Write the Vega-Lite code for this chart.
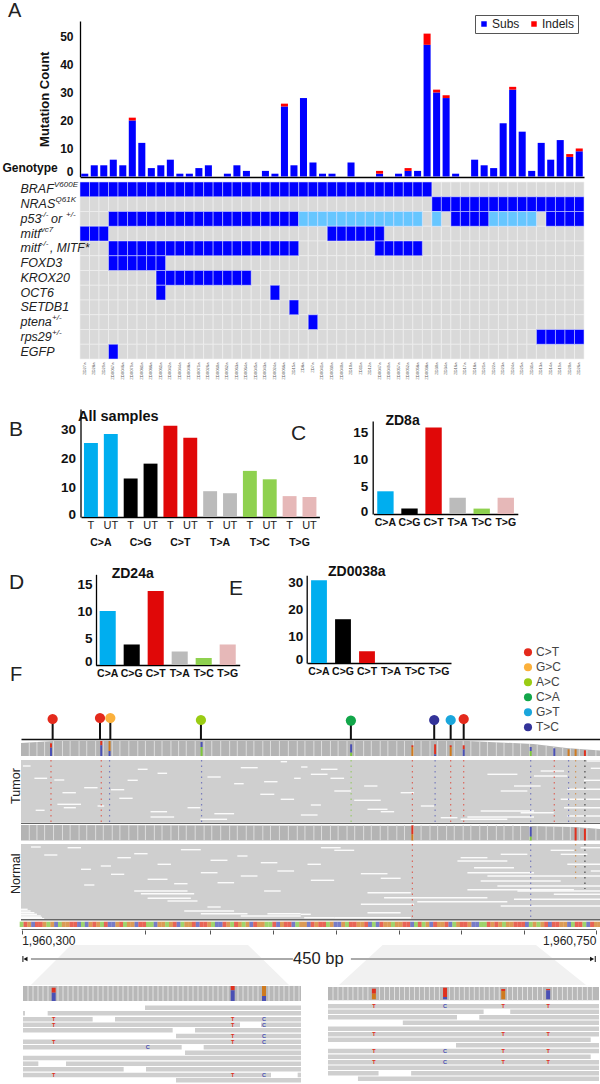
{
"$schema":"https://vega.github.io/schema/vega-lite/v6.json",
"padding":0,
"background":"white",
"bounds":"flush",
"spacing":0,
"resolve":{"scale":{"color":"independent","x":"independent","y":"independent","shape":"independent","strokeWidth":"independent"},"legend":{"color":"independent"}},
"config":{"font":"Liberation Sans","view":{"stroke":null},"axis":{"grid":false,"title":null},"title":{"font":"Liberation Sans","fontWeight":"normal","anchor":"start","frame":"group","baseline":"alphabetic","offset":0,"color":"#222"}},
"datasets":{
"samples":[
{"s":"ZD27a","Subs":1,"Indels":0,"BRAF":1,"vc7":1},
{"s":"ZD28a","Subs":4,"Indels":0,"BRAF":1,"vc7":1},
{"s":"ZD29a","Subs":4,"Indels":0,"BRAF":1,"vc7":1},
{"s":"ZD0067a","Subs":6,"Indels":0,"BRAF":1,"p53":1,"mitf":1,"FOXD3":1,"EGFP":1},
{"s":"ZD0046a","Subs":4,"Indels":0,"BRAF":1,"p53":1,"mitf":1,"FOXD3":1},
{"s":"ZD0079a","Subs":20,"Indels":1,"BRAF":1,"p53":1,"mitf":1,"FOXD3":1},
{"s":"ZD0081a","Subs":12,"Indels":0,"BRAF":1,"p53":1,"mitf":1,"FOXD3":1},
{"s":"ZD0086a","Subs":3,"Indels":0,"BRAF":1,"p53":1,"mitf":1,"FOXD3":1},
{"s":"ZD0061a","Subs":4,"Indels":0,"BRAF":1,"p53":1,"mitf":1,"FOXD3":1,"KROX20":1,"OCT6":1},
{"s":"ZD0042a","Subs":6,"Indels":0,"BRAF":1,"p53":1,"mitf":1,"KROX20":1},
{"s":"ZD0044a","Subs":1,"Indels":0,"BRAF":1,"p53":1,"mitf":1,"KROX20":1},
{"s":"ZD0048a","Subs":1,"Indels":0,"BRAF":1,"p53":1,"mitf":1,"KROX20":1},
{"s":"ZD0071a","Subs":3,"Indels":0,"BRAF":1,"p53":1,"mitf":1,"KROX20":1},
{"s":"ZD0026a","Subs":4,"Indels":0,"BRAF":1,"p53":1,"mitf":1,"KROX20":1},
{"s":"ZD0060a","Subs":0,"Indels":0,"BRAF":1,"p53":1,"mitf":1,"KROX20":1},
{"s":"ZD0062a","Subs":1,"Indels":0,"BRAF":1,"p53":1,"mitf":1,"KROX20":1},
{"s":"ZD0063a","Subs":4,"Indels":0,"BRAF":1,"p53":1,"mitf":1,"KROX20":1},
{"s":"ZD0064a","Subs":2,"Indels":0,"BRAF":1,"p53":1,"mitf":1,"KROX20":1},
{"s":"ZD0045a","Subs":0,"Indels":0,"BRAF":1,"p53":1,"mitf":1},
{"s":"ZD0043a","Subs":2,"Indels":0,"BRAF":1,"p53":1,"mitf":1},
{"s":"ZD0024a","Subs":1,"Indels":0,"BRAF":1,"p53":1,"mitf":1,"OCT6":1},
{"s":"ZD0066a","Subs":25,"Indels":1,"BRAF":1,"p53":1,"mitf":1},
{"s":"ZD15a","Subs":4,"Indels":0,"BRAF":1,"p53":1,"mitf":1,"SETDB1":1},
{"s":"ZD8a","Subs":28,"Indels":0,"BRAF":1,"p53":2},
{"s":"ZD7a","Subs":5,"Indels":0,"BRAF":1,"p53":2,"ptena":1},
{"s":"ZD0041a","Subs":1,"Indels":0,"BRAF":1,"p53":2},
{"s":"ZD0039a","Subs":1,"Indels":0,"BRAF":1,"p53":2,"vc7":1},
{"s":"ZD0040a","Subs":0,"Indels":0,"BRAF":1,"p53":2,"vc7":1},
{"s":"ZD10a","Subs":5,"Indels":0,"BRAF":1,"p53":2,"vc7":1},
{"s":"ZD11a","Subs":0,"Indels":0,"BRAF":1,"p53":2,"vc7":1},
{"s":"ZD12a","Subs":0,"Indels":0,"BRAF":1,"p53":2,"vc7":1},
{"s":"ZD0047a","Subs":1,"Indels":1,"BRAF":1,"p53":2,"vc7":1,"mitf":1},
{"s":"ZD0049a","Subs":0,"Indels":0,"BRAF":1,"p53":2,"mitf":1},
{"s":"ZD0057a","Subs":1,"Indels":0,"BRAF":1,"p53":2,"mitf":1},
{"s":"ZD0052a","Subs":2,"Indels":1,"BRAF":1,"p53":2,"mitf":1},
{"s":"ZD0058a","Subs":2,"Indels":0,"BRAF":1,"p53":2,"mitf":1},
{"s":"ZD0038a","Subs":47,"Indels":4,"BRAF":1},
{"s":"ZD30a","Subs":30,"Indels":1,"NRAS":1,"p53":2},
{"s":"ZD34a","Subs":28,"Indels":1,"NRAS":1},
{"s":"ZD16a","Subs":1,"Indels":0,"NRAS":1,"p53":1},
{"s":"ZD17a","Subs":0,"Indels":0,"NRAS":1,"p53":1},
{"s":"ZD18a","Subs":6,"Indels":0,"NRAS":1,"p53":1},
{"s":"ZD21a","Subs":4,"Indels":0,"NRAS":1,"p53":1},
{"s":"ZD22a","Subs":3,"Indels":0,"NRAS":1,"p53":2},
{"s":"ZD23a","Subs":19,"Indels":0,"NRAS":1,"p53":2},
{"s":"ZD24a","Subs":31,"Indels":1,"NRAS":1,"p53":2},
{"s":"ZD25a","Subs":16,"Indels":0,"NRAS":1,"p53":2},
{"s":"ZD31a","Subs":2,"Indels":0,"NRAS":1,"p53":2},
{"s":"ZD13a","Subs":12,"Indels":0,"NRAS":1,"rps29":1},
{"s":"ZD14a","Subs":6,"Indels":0,"NRAS":1,"p53":1,"rps29":1},
{"s":"ZD19a","Subs":13,"Indels":0,"NRAS":1,"p53":1,"rps29":1},
{"s":"ZD20a","Subs":7,"Indels":1,"NRAS":1,"p53":1,"rps29":1},
{"s":"ZD26a","Subs":9,"Indels":1,"NRAS":1,"p53":1,"rps29":1}
],
"geneText":[
{"s":"ZD27a","gene":"BRAF","k":"base","t":"BRAF"},
{"s":"ZD27a","gene":"NRAS","k":"base","t":"NRAS"},
{"s":"ZD27a","gene":"p53","k":"base","t":"p53"},
{"s":"ZD27a","gene":"vc7","k":"base","t":"mitf"},
{"s":"ZD27a","gene":"mitf","k":"base","t":"mitf"},
{"s":"ZD27a","gene":"FOXD3","k":"base","t":"FOXD3"},
{"s":"ZD27a","gene":"KROX20","k":"base","t":"KROX20"},
{"s":"ZD27a","gene":"OCT6","k":"base","t":"OCT6"},
{"s":"ZD27a","gene":"SETDB1","k":"base","t":"SETDB1"},
{"s":"ZD27a","gene":"ptena","k":"base","t":"ptena"},
{"s":"ZD27a","gene":"rps29","k":"base","t":"rps29"},
{"s":"ZD27a","gene":"EGFP","k":"base","t":"EGFP"},
{"s":"ZD27a","gene":"BRAF","k":"s1","t":"V600E"},
{"s":"ZD27a","gene":"NRAS","k":"s2","t":"Q61K"},
{"s":"ZD27a","gene":"p53","k":"s3","t":"-/-"},
{"s":"ZD27a","gene":"vc7","k":"s3","t":"vc7"},
{"s":"ZD27a","gene":"mitf","k":"s3","t":"-/-"},
{"s":"ZD27a","gene":"p53","k":"s4","t":"+/-"},
{"s":"ZD27a","gene":"ptena","k":"s5","t":"+/-"},
{"s":"ZD27a","gene":"rps29","k":"s5","t":"+/-"},
{"s":"ZD27a","gene":"p53","k":"m1","t":"or"},
{"s":"ZD27a","gene":"mitf","k":"m2","t":", MITF*"}
],
"spectrumAll":[
{"g":"C>A","t":"T","v":25.5,"z":0},{"g":"C>A","t":"UT","v":28.6,"z":0},
{"g":"C>G","t":"T","v":13.3,"z":0},{"g":"C>G","t":"UT","v":18.4,"z":0},
{"g":"C>T","t":"T","v":31.5,"z":0},{"g":"C>T","t":"UT","v":27.3,"z":0},
{"g":"T>A","t":"T","v":8.9,"z":0},{"g":"T>A","t":"UT","v":8.2,"z":0},
{"g":"T>C","t":"T","v":15.9,"z":0},{"g":"T>C","t":"UT","v":13,"z":0},
{"g":"T>G","t":"T","v":7.2,"z":0},{"g":"T>G","t":"UT","v":6.9,"z":0}
],
"lollipops":[
{"bp":24.3,"h":20,"m":"C>T"},{"bp":61.4,"h":21,"m":"C>T"},{"bp":69.5,"h":21,"m":"G>C"},{"bp":140.5,"h":19,"m":"A>C"},
{"bp":258,"h":18.4,"m":"C>A"},{"bp":323.3,"h":19,"m":"T>C"},{"bp":336.2,"h":19,"m":"G>T"},{"bp":346.4,"h":20,"m":"C>T"}
],
"readBg":[{"bp":-0.5,"bp2":454,"l":21,"l2":83.7},{"bp":-0.5,"bp2":454,"l":105,"l2":180}],
"gaps":[
{"bp":25.6,"bp2":33.4,"l":41},{"bp":32,"bp2":42.5,"l":53.7},{"bp":28,"bp2":46.5,"l":65.3},{"bp":33,"bp2":42.5,"l":68.7},{"bp":76.5,"bp2":87,"l":59.3},{"bp":101,"bp2":114,"l":72.7},{"bp":11,"bp2":18,"l":71.3},{"bp":59.5,"bp2":64.7,"l":67},{"bp":91,"bp2":98.7,"l":30.3},{"bp":106.5,"bp2":114,"l":34.3},{"bp":166.5,"bp2":174,"l":44.7},{"bp":187,"bp2":198,"l":55.3},{"bp":203,"bp2":213.5,"l":60.3},{"bp":130,"bp2":140,"l":68.7},{"bp":151,"bp2":166.5,"l":74.7},{"bp":140,"bp2":161,"l":80.3},{"bp":101,"bp2":119.5,"l":78},{"bp":49,"bp2":59.5,"l":48.7},{"bp":70,"bp2":80.4,"l":50.7},{"bp":145.6,"bp2":156,"l":38},{"bp":171.7,"bp2":185,"l":28.7},{"bp":10,"bp2":20,"l":39.3},{"bp":190,"bp2":200.5,"l":42.7},{"bp":203,"bp2":208,"l":22.7},{"bp":213.5,"bp2":218.7,"l":39.3},{"bp":1,"bp2":7,"l":27},{"bp":83,"bp2":91,"l":41.3},
{"bp":219,"bp2":224,"l":28},{"bp":234.5,"bp2":247.5,"l":30.3},{"bp":226.6,"bp2":239.7,"l":35.3},{"bp":242,"bp2":252.7,"l":39.3},{"bp":268.4,"bp2":278.8,"l":47},{"bp":245,"bp2":258,"l":52},{"bp":260.6,"bp2":281.4,"l":61.3},{"bp":271,"bp2":286.7,"l":70.3},{"bp":226.6,"bp2":234.5,"l":66},{"bp":218.8,"bp2":231.9,"l":76},{"bp":281.4,"bp2":291.9,"l":72.7},{"bp":297,"bp2":307.5,"l":53.7},{"bp":312.8,"bp2":323.2,"l":67},{"bp":328.4,"bp2":341.5,"l":78.7},{"bp":344,"bp2":380.6,"l":80.3},{"bp":349.3,"bp2":401.5,"l":78},{"bp":359.7,"bp2":401.5,"l":72},{"bp":375.4,"bp2":396.3,"l":52},{"bp":385.8,"bp2":406.7,"l":47},{"bp":365,"bp2":388.5,"l":35.3},{"bp":401.5,"bp2":427.6,"l":37},{"bp":406.7,"bp2":425,"l":32},{"bp":427.6,"bp2":454,"l":50.3},{"bp":422.4,"bp2":454,"l":60.3},{"bp":425,"bp2":454,"l":68.7},{"bp":427.6,"bp2":454,"l":77},{"bp":443,"bp2":454,"l":22},{"bp":446,"bp2":454,"l":29.3},{"bp":440.6,"bp2":454,"l":41.3},{"bp":391,"bp2":417,"l":73.7},
{"bp":36,"bp2":46.5,"l":108.7},{"bp":88.2,"bp2":98.7,"l":114.7},{"bp":124.8,"bp2":140.4,"l":110.7},{"bp":169,"bp2":177,"l":117},{"bp":148,"bp2":161.3,"l":121.3},{"bp":187.4,"bp2":200.4,"l":123.7},{"bp":75,"bp2":85.6,"l":118.7},{"bp":106.5,"bp2":117,"l":125.3},{"bp":46.5,"bp2":54.3,"l":130.3},{"bp":17.7,"bp2":28,"l":116},{"bp":62,"bp2":70,"l":127},{"bp":140.4,"bp2":153.5,"l":133.7},{"bp":171.7,"bp2":184.8,"l":137},{"bp":98.7,"bp2":114.3,"l":140.3},{"bp":88.2,"bp2":130,"l":152},{"bp":93.4,"bp2":135.2,"l":154.7},{"bp":98.7,"bp2":132.6,"l":159.3},{"bp":114.3,"bp2":137.8,"l":162},{"bp":145.6,"bp2":156,"l":168},{"bp":127.4,"bp2":166.5,"l":172},{"bp":140.4,"bp2":177,"l":174.7},{"bp":171.7,"bp2":218.7,"l":177},{"bp":192.6,"bp2":218.7,"l":174.7},{"bp":190,"bp2":203,"l":152},{"bp":70,"bp2":80.4,"l":135.3},{"bp":119.5,"bp2":130,"l":144.7},{"bp":49,"bp2":57,"l":146},{"bp":7.3,"bp2":15,"l":108},{"bp":200.4,"bp2":213.5,"l":132},{"bp":153.5,"bp2":166.5,"l":143.7},
{"bp":-0.5,"bp2":4.7,"l":170.3},{"bp":-0.5,"bp2":7,"l":172},{"bp":-0.5,"bp2":10,"l":173.7},{"bp":-0.5,"bp2":12,"l":175.3},{"bp":-0.5,"bp2":15,"l":177},{"bp":-0.5,"bp2":16,"l":178.4},{"bp":-0.5,"bp2":17.7,"l":179.7},
{"bp":234.5,"bp2":250,"l":108.7},{"bp":245,"bp2":260.6,"l":111.3},{"bp":344,"bp2":365,"l":118.7},{"bp":341.5,"bp2":380.6,"l":122},{"bp":224,"bp2":234.5,"l":125.3},{"bp":265.8,"bp2":286.7,"l":134.7},{"bp":281.4,"bp2":297,"l":139.3},{"bp":226.6,"bp2":244.9,"l":141.3},{"bp":354.5,"bp2":385.8,"l":128.7},{"bp":349.3,"bp2":401.5,"l":133.7},{"bp":365,"bp2":454,"l":137},{"bp":359.7,"bp2":422.4,"l":142},{"bp":372.8,"bp2":454,"l":147},{"bp":349.3,"bp2":432.8,"l":150.7},{"bp":271,"bp2":305,"l":153.7},{"bp":284,"bp2":365,"l":158.7},{"bp":310,"bp2":380.6,"l":162.7},{"bp":265.8,"bp2":307.5,"l":165.3},{"bp":375.4,"bp2":454,"l":167},{"bp":385.8,"bp2":454,"l":160.3},{"bp":417,"bp2":454,"l":155.3},{"bp":388.5,"bp2":454,"l":152},{"bp":271,"bp2":297,"l":173.7},{"bp":218.8,"bp2":226.6,"l":175.3},{"bp":221.4,"bp2":244.9,"l":178.7},{"bp":244.9,"bp2":305,"l":178.7},{"bp":438,"bp2":454,"l":108.7},{"bp":422.4,"bp2":443.3,"l":115.3},{"bp":427.6,"bp2":454,"l":125.3},{"bp":446,"bp2":454,"l":132},{"bp":375.4,"bp2":396.3,"l":115.3},{"bp":414.5,"bp2":432.8,"l":111.3}
],
"readMuts":[
{"bp":23,"l":21,"l2":83,"b":"T"},{"bp":62.4,"l":21,"l2":83,"b":"T"},{"bp":68.9,"l":21,"l2":83,"b":"C"},{"bp":141,"l":21,"l2":83,"b":"C"},{"bp":258.2,"l":21,"l2":83,"b":"A"},{"bp":306.2,"l":21,"l2":83,"b":"T"},{"bp":324,"l":21,"l2":83,"b":"C"},{"bp":336.2,"l":21,"l2":83,"b":"T"},{"bp":346.4,"l":21,"l2":83,"b":"T"},{"bp":398.9,"l":21,"l2":83,"b":"C"},{"bp":417.4,"l":21,"l2":83,"b":"T"},{"bp":428.6,"l":21,"l2":83,"b":"C"},{"bp":434.1,"l":21,"l2":83,"b":"G"},{"bp":441.4,"l":21,"l2":83,"b":"N"},
{"bp":306.2,"l":105,"l2":180,"b":"T"},{"bp":398.9,"l":105,"l2":180,"b":"C"},{"bp":434.1,"l":105,"l2":140,"b":"G"},{"bp":441.4,"l":105,"l2":150,"b":"N"}
],
"coverage":[
{"bp":-0.5,"l":4,"l2":17,"tr":"tumor"},{"bp":25,"l":2,"l2":17,"tr":"tumor"},{"bp":350,"l":2,"l2":17,"tr":"tumor"},{"bp":401,"l":5,"l2":17,"tr":"tumor"},{"bp":427,"l":9,"l2":17,"tr":"tumor"},{"bp":454,"l":11.5,"l2":17,"tr":"tumor"},
{"bp":-0.5,"l":86,"l2":101.5,"tr":"normal"},{"bp":400,"l":87,"l2":101.5,"tr":"normal"},{"bp":434,"l":88,"l2":101.5,"tr":"normal"},{"bp":454,"l":90,"l2":101.5,"tr":"normal"}
],
"stripes":[
{"bp":6,"l":3,"n":86},{"bp":12,"l":3,"n":86},{"bp":18,"l":3,"n":86},{"bp":25,"l":2,"n":86},{"bp":32,"l":2,"n":86},{"bp":38,"l":2,"n":86},{"bp":45,"l":2,"n":86},{"bp":51,"l":2,"n":86},{"bp":58,"l":2,"n":86},{"bp":64,"l":2,"n":86},{"bp":71,"l":2,"n":86},{"bp":77,"l":2,"n":86},{"bp":84,"l":2,"n":86},{"bp":91,"l":2,"n":86},{"bp":97,"l":2,"n":86},{"bp":104,"l":2,"n":86},{"bp":110,"l":2,"n":86},{"bp":117,"l":2,"n":86},{"bp":123,"l":2,"n":86},{"bp":129,"l":2,"n":86},{"bp":136,"l":2,"n":86},{"bp":143,"l":2,"n":86},{"bp":149,"l":2,"n":86},{"bp":156,"l":2,"n":86},{"bp":163,"l":2,"n":86},{"bp":169,"l":2,"n":86},{"bp":176,"l":2,"n":86},{"bp":182,"l":2,"n":86},{"bp":189,"l":2,"n":86},{"bp":195,"l":2,"n":86},{"bp":202,"l":2,"n":86},{"bp":209,"l":2,"n":86},{"bp":216,"l":2,"n":86},{"bp":222,"l":2,"n":86},{"bp":229,"l":2,"n":86},{"bp":235,"l":2,"n":86},{"bp":242,"l":2,"n":86},{"bp":248,"l":2,"n":86},{"bp":255,"l":2,"n":86},{"bp":261,"l":2,"n":86},{"bp":268,"l":2,"n":86},{"bp":274,"l":2,"n":86},{"bp":281,"l":2,"n":86},{"bp":287,"l":2,"n":86},{"bp":294,"l":2,"n":86},{"bp":300,"l":2,"n":86},{"bp":307,"l":2,"n":86},{"bp":313,"l":2,"n":86},{"bp":320,"l":2,"n":86},{"bp":326,"l":2,"n":86},{"bp":333,"l":2,"n":86},{"bp":339,"l":2,"n":86},{"bp":346,"l":2,"n":86},{"bp":352,"l":2,"n":86},{"bp":359,"l":3,"n":86},{"bp":365,"l":3,"n":86},{"bp":372,"l":3,"n":86},{"bp":378,"l":4,"n":86},{"bp":385,"l":4,"n":86},{"bp":391,"l":4,"n":87},{"bp":398,"l":5,"n":87},{"bp":404,"l":6,"n":87},{"bp":411,"l":7,"n":87},{"bp":417,"l":8,"n":87},{"bp":424,"l":9,"n":88},{"bp":430,"l":9,"n":88},{"bp":437,"l":10,"n":88},{"bp":443,"l":11,"n":89},{"bp":450,"l":11,"n":90}
],
"covMuts":[
{"bp":23,"l":4.3,"l2":8.7,"b":"T"},{"bp":23,"l":8.7,"l2":17,"b":"C"},{"bp":62.4,"l":2,"l2":6.3,"b":"T"},{"bp":62.4,"l":6.3,"l2":17,"b":"C"},{"bp":68.9,"l":2,"l2":12,"b":"G"},{"bp":68.9,"l":12,"l2":17,"b":"C"},{"bp":141,"l":3,"l2":8,"b":"C"},{"bp":141,"l":8,"l2":17,"b":"A"},{"bp":258.2,"l":5.3,"l2":13.7,"b":"C"},{"bp":258.2,"l":13.7,"l2":17,"b":"A"},{"bp":306.2,"l":6.3,"l2":8,"b":"T"},{"bp":306.2,"l":8,"l2":17,"b":"G"},{"bp":324,"l":5.3,"l2":15.3,"b":"T"},{"bp":324,"l":15.3,"l2":17,"b":"C"},{"bp":336.2,"l":6.3,"l2":8,"b":"T"},{"bp":336.2,"l":8,"l2":17,"b":"G"},{"bp":346.4,"l":6.3,"l2":10.3,"b":"T"},{"bp":346.4,"l":10.3,"l2":17,"b":"C"},{"bp":398.9,"l":8,"l2":12,"b":"C"},{"bp":398.9,"l":12,"l2":17,"b":"A"},{"bp":417.4,"l":9.3,"l2":17,"b":"C"},{"bp":428.6,"l":10.3,"l2":17,"b":"G"},{"bp":434.1,"l":10.3,"l2":17,"b":"G"},{"bp":441.4,"l":11.3,"l2":17,"b":"T"},
{"bp":306.2,"l":86.3,"l2":95.3,"b":"T"},{"bp":306.2,"l":95.3,"l2":101.5,"b":"G"},{"bp":398.9,"l":88,"l2":97.7,"b":"C"},{"bp":398.9,"l":97.7,"l2":101.5,"b":"A"},{"bp":434.1,"l":88.7,"l2":101.5,"b":"T"},{"bp":441.4,"l":89.7,"l2":101.5,"b":"T"}
],
"refSeq":[
{"bp":0,"b":"A","l":182.7},{"bp":3,"b":"T","l":182.7},{"bp":6,"b":"G","l":182.7},{"bp":9,"b":"C","l":182.7},{"bp":12,"b":"T","l":182.7},{"bp":15,"b":"T","l":182.7},{"bp":18,"b":"G","l":182.7},{"bp":21,"b":"A","l":182.7},{"bp":24,"b":"G","l":182.7},{"bp":27,"b":"C","l":182.7},{"bp":30,"b":"A","l":182.7},{"bp":33,"b":"G","l":182.7},{"bp":36,"b":"G","l":182.7},{"bp":39,"b":"T","l":182.7},{"bp":42,"b":"T","l":182.7},{"bp":45,"b":"C","l":182.7},{"bp":48,"b":"A","l":182.7},{"bp":51,"b":"C","l":182.7},{"bp":54,"b":"G","l":182.7},{"bp":57,"b":"T","l":182.7},{"bp":60,"b":"G","l":182.7},{"bp":63,"b":"A","l":182.7},{"bp":66,"b":"T","l":182.7},{"bp":69,"b":"C","l":182.7},{"bp":72,"b":"C","l":182.7},{"bp":75,"b":"G","l":182.7},{"bp":78,"b":"T","l":182.7},{"bp":81,"b":"A","l":182.7},{"bp":84,"b":"G","l":182.7},{"bp":87,"b":"G","l":182.7},{"bp":90,"b":"C","l":182.7},{"bp":93,"b":"T","l":182.7},{"bp":96,"b":"T","l":182.7},{"bp":99,"b":"A","l":182.7},{"bp":102,"b":"A","l":182.7},{"bp":105,"b":"C","l":182.7},{"bp":108,"b":"G","l":182.7},{"bp":111,"b":"G","l":182.7},{"bp":114,"b":"A","l":182.7},{"bp":117,"b":"G","l":182.7},{"bp":120,"b":"T","l":182.7},{"bp":123,"b":"C","l":182.7},{"bp":126,"b":"A","l":182.7},{"bp":129,"b":"G","l":182.7},{"bp":132,"b":"G","l":182.7},{"bp":135,"b":"T","l":182.7},{"bp":138,"b":"C","l":182.7},{"bp":141,"b":"T","l":182.7},{"bp":144,"b":"T","l":182.7},{"bp":147,"b":"G","l":182.7},{"bp":150,"b":"A","l":182.7},{"bp":153,"b":"C","l":182.7},{"bp":156,"b":"C","l":182.7},{"bp":159,"b":"T","l":182.7},{"bp":162,"b":"G","l":182.7},{"bp":165,"b":"A","l":182.7},{"bp":168,"b":"T","l":182.7},{"bp":171,"b":"G","l":182.7},{"bp":174,"b":"A","l":182.7},{"bp":177,"b":"G","l":182.7},{"bp":180,"b":"C","l":182.7},{"bp":183,"b":"T","l":182.7},{"bp":186,"b":"G","l":182.7},{"bp":189,"b":"G","l":182.7},{"bp":192,"b":"A","l":182.7},{"bp":195,"b":"A","l":182.7},{"bp":198,"b":"T","l":182.7},{"bp":201,"b":"C","l":182.7},{"bp":204,"b":"G","l":182.7},{"bp":207,"b":"T","l":182.7},{"bp":210,"b":"T","l":182.7},{"bp":213,"b":"C","l":182.7},{"bp":216,"b":"A","l":182.7},{"bp":219,"b":"G","l":182.7},{"bp":222,"b":"G","l":182.7},{"bp":225,"b":"C","l":182.7},{"bp":228,"b":"T","l":182.7},{"bp":231,"b":"G","l":182.7},{"bp":234,"b":"T","l":182.7},{"bp":237,"b":"T","l":182.7},{"bp":240,"b":"A","l":182.7},{"bp":243,"b":"G","l":182.7},{"bp":246,"b":"C","l":182.7},{"bp":249,"b":"C","l":182.7},{"bp":252,"b":"G","l":182.7},{"bp":255,"b":"A","l":182.7},{"bp":258,"b":"T","l":182.7},{"bp":261,"b":"T","l":182.7},{"bp":264,"b":"G","l":182.7},{"bp":267,"b":"G","l":182.7},{"bp":270,"b":"T","l":182.7},{"bp":273,"b":"C","l":182.7},{"bp":276,"b":"A","l":182.7},{"bp":279,"b":"C","l":182.7},{"bp":282,"b":"T","l":182.7},{"bp":285,"b":"G","l":182.7},{"bp":288,"b":"G","l":182.7},{"bp":291,"b":"A","l":182.7},{"bp":294,"b":"G","l":182.7},{"bp":297,"b":"G","l":182.7},{"bp":300,"b":"T","l":182.7},{"bp":303,"b":"T","l":182.7},{"bp":306,"b":"C","l":182.7},{"bp":309,"b":"A","l":182.7},{"bp":312,"b":"T","l":182.7},{"bp":315,"b":"A","l":182.7},{"bp":318,"b":"G","l":182.7},{"bp":321,"b":"C","l":182.7},{"bp":324,"b":"T","l":182.7},{"bp":327,"b":"G","l":182.7},{"bp":330,"b":"G","l":182.7},{"bp":333,"b":"T","l":182.7},{"bp":336,"b":"C","l":182.7},{"bp":339,"b":"A","l":182.7},{"bp":342,"b":"G","l":182.7},{"bp":345,"b":"T","l":182.7},{"bp":348,"b":"T","l":182.7},{"bp":351,"b":"G","l":182.7},{"bp":354,"b":"C","l":182.7},{"bp":357,"b":"C","l":182.7},{"bp":360,"b":"A","l":182.7},{"bp":363,"b":"A","l":182.7},{"bp":366,"b":"T","l":182.7},{"bp":369,"b":"G","l":182.7},{"bp":372,"b":"T","l":182.7},{"bp":375,"b":"G","l":182.7},{"bp":378,"b":"A","l":182.7},{"bp":381,"b":"G","l":182.7},{"bp":384,"b":"G","l":182.7},{"bp":387,"b":"T","l":182.7},{"bp":390,"b":"T","l":182.7},{"bp":393,"b":"T","l":182.7},{"bp":396,"b":"C","l":182.7},{"bp":399,"b":"A","l":182.7},{"bp":402,"b":"G","l":182.7},{"bp":405,"b":"A","l":182.7},{"bp":408,"b":"G","l":182.7},{"bp":411,"b":"T","l":182.7},{"bp":414,"b":"C","l":182.7},{"bp":417,"b":"T","l":182.7},{"bp":420,"b":"T","l":182.7},{"bp":423,"b":"G","l":182.7},{"bp":426,"b":"G","l":182.7},{"bp":429,"b":"C","l":182.7},{"bp":432,"b":"A","l":182.7},{"bp":435,"b":"T","l":182.7},{"bp":438,"b":"T","l":182.7},{"bp":441,"b":"A","l":182.7},{"bp":444,"b":"C","l":182.7},{"bp":447,"b":"T","l":182.7},{"bp":450,"b":"G","l":182.7},{"bp":453,"b":"G","l":182.7}
],
"lines":[{"bp":-0.5,"bp2":454,"l":84.5,"w":1},{"bp":-0.5,"bp2":454,"l":180.8,"w":1.4},{"bp":0,"bp2":450,"l":190.5,"w":1}],
"trackLabels":[{"bp":-4.4,"l":47,"t":"Tumor"},{"bp":-4.4,"l":134.7,"t":"Normal"}],
"trapezoids":[
{"n":"left","l":15,"bp":38.7,"bp2":177.4},{"n":"left","l":55,"bp":7.3,"bp2":209.5},
{"n":"right","l":15,"bp":282.9,"bp2":403},{"n":"right","l":55,"bp":248.7,"bp2":442.2}
],
"spanLine":[{"bp":7.3,"bp2":212.6,"l":29},{"bp":258,"bp2":446,"l":29}],
"spanEnds":[{"bp":3,"l":29,"sh":"triangle-left"},{"bp":447,"l":29,"sh":"triangle-right"}],
"spanCaps":[{"bp":1,"l":26,"l2":32},{"bp":449.5,"l":26,"l2":32}],
"spanText":[{"bp":232.5,"l":29,"t":"450 bp"}],
"zoomCov":[{"v":"L","p":66,"p2":900,"l":1,"l2":16},{"v":"R","p":80,"p2":895,"l":2,"l2":15.3}],
"zoomStripes":[
{"v":"L","l":1,"p":81},{"v":"L","l":1,"p":96},{"v":"L","l":1,"p":111},{"v":"L","l":1,"p":126},{"v":"L","l":1,"p":141},{"v":"L","l":1,"p":171},{"v":"L","l":1,"p":186},{"v":"L","l":1,"p":201},{"v":"L","l":1,"p":216},{"v":"L","l":1,"p":231},{"v":"L","l":1,"p":246},{"v":"L","l":1,"p":261},{"v":"L","l":1,"p":276},{"v":"L","l":1,"p":291},{"v":"L","l":1,"p":306},{"v":"L","l":1,"p":321},{"v":"L","l":1,"p":336},{"v":"L","l":1,"p":351},{"v":"L","l":1,"p":366},{"v":"L","l":1,"p":381},{"v":"L","l":1,"p":396},{"v":"L","l":1,"p":411},{"v":"L","l":1,"p":426},{"v":"L","l":1,"p":441},{"v":"L","l":1,"p":456},{"v":"L","l":1,"p":471},{"v":"L","l":1,"p":486},{"v":"L","l":1,"p":501},{"v":"L","l":1,"p":516},{"v":"L","l":1,"p":531},{"v":"L","l":1,"p":546},{"v":"L","l":1,"p":561},{"v":"L","l":1,"p":576},{"v":"L","l":1,"p":591},{"v":"L","l":1,"p":606},{"v":"L","l":1,"p":621},{"v":"L","l":1,"p":636},{"v":"L","l":1,"p":651},{"v":"L","l":1,"p":666},{"v":"L","l":1,"p":681},{"v":"L","l":1,"p":711},{"v":"L","l":1,"p":726},{"v":"L","l":1,"p":741},{"v":"L","l":1,"p":756},{"v":"L","l":1,"p":771},{"v":"L","l":1,"p":804},{"v":"L","l":1,"p":819},{"v":"L","l":1,"p":834},{"v":"L","l":1,"p":849},{"v":"L","l":1,"p":864},{"v":"L","l":1,"p":879},{"v":"L","l":1,"p":894},
{"v":"R","l":2,"p":95},{"v":"R","l":2,"p":110},{"v":"R","l":2,"p":125},{"v":"R","l":2,"p":140},{"v":"R","l":2,"p":155},{"v":"R","l":2,"p":170},{"v":"R","l":2,"p":185},{"v":"R","l":2,"p":200},{"v":"R","l":2,"p":235},{"v":"R","l":2,"p":250},{"v":"R","l":2,"p":265},{"v":"R","l":2,"p":280},{"v":"R","l":2,"p":295},{"v":"R","l":2,"p":310},{"v":"R","l":2,"p":325},{"v":"R","l":2,"p":340},{"v":"R","l":2,"p":355},{"v":"R","l":2,"p":370},{"v":"R","l":2,"p":385},{"v":"R","l":2,"p":400},{"v":"R","l":2,"p":415},{"v":"R","l":2,"p":445},{"v":"R","l":2,"p":460},{"v":"R","l":2,"p":475},{"v":"R","l":2,"p":490},{"v":"R","l":2,"p":505},{"v":"R","l":2,"p":520},{"v":"R","l":2,"p":535},{"v":"R","l":2,"p":550},{"v":"R","l":2,"p":565},{"v":"R","l":2,"p":580},{"v":"R","l":2,"p":595},{"v":"R","l":2,"p":620},{"v":"R","l":2,"p":635},{"v":"R","l":2,"p":650},{"v":"R","l":2,"p":665},{"v":"R","l":2,"p":680},{"v":"R","l":2,"p":695},{"v":"R","l":2,"p":710},{"v":"R","l":2,"p":725},{"v":"R","l":2,"p":755},{"v":"R","l":2,"p":770},{"v":"R","l":2,"p":785},{"v":"R","l":2,"p":800},{"v":"R","l":2,"p":815},{"v":"R","l":2,"p":830},{"v":"R","l":2,"p":845},{"v":"R","l":2,"p":860},{"v":"R","l":2,"p":875}
],
"zoomMuts":[
{"v":"L","p":158,"l":2.7,"l2":7.7,"b":"T"},{"v":"L","p":158,"l":7.7,"l2":16,"b":"C"},{"v":"L","p":695,"l":1,"l2":5.3,"b":"T"},{"v":"L","p":695,"l":5.3,"l2":16,"b":"C"},{"v":"L","p":789,"l":1,"l2":11,"b":"G"},{"v":"L","p":789,"l":11,"l2":16,"b":"C"},
{"v":"R","p":218,"l":3.7,"l2":8.7,"b":"T"},{"v":"R","p":218,"l":8.7,"l2":14.3,"b":"G"},{"v":"R","p":432,"l":2.7,"l2":12,"b":"T"},{"v":"R","p":432,"l":12,"l2":14.3,"b":"C"},{"v":"R","p":607,"l":4,"l2":6,"b":"T"},{"v":"R","p":607,"l":6,"l2":14.3,"b":"G"},{"v":"R","p":742,"l":4,"l2":5.3,"b":"T"},{"v":"R","p":742,"l":5.3,"l2":14.3,"b":"C"}
],
"zoomReads":[
{"v":"L","l":22.7,"p":432,"p2":900},{"v":"L","l":28.3,"p":66,"p2":72},{"v":"L","l":28.3,"p":140,"p2":900},{"v":"L","l":34.3,"p":66,"p2":275},{"v":"L","l":34.3,"p":342,"p2":900},{"v":"L","l":39.7,"p":66,"p2":717},{"v":"L","l":39.7,"p":780,"p2":900},{"v":"L","l":45.3,"p":66,"p2":515},{"v":"L","l":45.3,"p":582,"p2":900},{"v":"L","l":51,"p":525,"p2":900},{"v":"L","l":56.7,"p":66,"p2":900},{"v":"L","l":62.3,"p":66,"p2":542},{"v":"L","l":62.3,"p":608,"p2":900},{"v":"L","l":67.7,"p":552,"p2":900},{"v":"L","l":73,"p":66,"p2":900},{"v":"L","l":78.7,"p":66,"p2":112},{"v":"L","l":78.7,"p":195,"p2":900},{"v":"L","l":84.3,"p":66,"p2":368},{"v":"L","l":84.3,"p":435,"p2":900},{"v":"L","l":90,"p":66,"p2":810},{"v":"L","l":90,"p":890,"p2":900},{"v":"L","l":95.3,"p":525,"p2":900},
{"v":"R","l":21.3,"p":80,"p2":895},{"v":"R","l":26.7,"p":80,"p2":548},{"v":"R","l":26.7,"p":628,"p2":895},{"v":"R","l":32.3,"p":80,"p2":468},{"v":"R","l":32.3,"p":535,"p2":895},{"v":"R","l":37.7,"p":305,"p2":895},{"v":"R","l":43.7,"p":80,"p2":895},{"v":"R","l":49.3,"p":80,"p2":895},{"v":"R","l":54.7,"p":80,"p2":870},{"v":"R","l":60.3,"p":465,"p2":895},{"v":"R","l":66,"p":80,"p2":895},{"v":"R","l":71.7,"p":80,"p2":870},{"v":"R","l":77.3,"p":80,"p2":895},{"v":"R","l":82.7,"p":80,"p2":895},{"v":"R","l":88.3,"p":80,"p2":232},{"v":"R","l":88.3,"p":330,"p2":895},{"v":"R","l":93.7,"p":170,"p2":895}
],
"zoomLetters":[
{"v":"L","p":158,"l":34.3,"b":"T"},{"v":"L","p":158,"l":39.7,"b":"T"},{"v":"L","p":158,"l":56.7,"b":"T"},{"v":"L","p":158,"l":90,"b":"T"},
{"v":"L","p":695,"l":34.3,"b":"T"},{"v":"L","p":695,"l":39.7,"b":"T"},{"v":"L","p":695,"l":51,"b":"T"},{"v":"L","p":695,"l":56.7,"b":"T"},{"v":"L","p":695,"l":90,"b":"T"},
{"v":"L","p":789,"l":34.3,"b":"C"},{"v":"L","p":789,"l":39.7,"b":"C"},{"v":"L","p":789,"l":51,"b":"C"},{"v":"L","p":789,"l":56.7,"b":"C"},{"v":"L","p":789,"l":90,"b":"C"},{"v":"L","p":440,"l":62.3,"b":"C"},
{"v":"R","p":218,"l":21.3,"b":"T"},{"v":"R","p":218,"l":49.3,"b":"T"},{"v":"R","p":218,"l":66,"b":"T"},{"v":"R","p":218,"l":77.3,"b":"T"},
{"v":"R","p":432,"l":21.3,"b":"C"},{"v":"R","p":432,"l":66,"b":"C"},{"v":"R","p":432,"l":77.3,"b":"C"},
{"v":"R","p":607,"l":21.3,"b":"T"},{"v":"R","p":607,"l":49.3,"b":"T"},{"v":"R","p":607,"l":66,"b":"T"},{"v":"R","p":607,"l":77.3,"b":"T"},
{"v":"R","p":742,"l":21.3,"b":"T"},{"v":"R","p":742,"l":49.3,"b":"T"},{"v":"R","p":742,"l":66,"b":"T"},{"v":"R","p":742,"l":77.3,"b":"T"}
]
},
"vconcat":[
{
"width":600,"height":176,
"title":{"text":"A","fontSize":20,"dx":7,"dy":23.5},
"data":{"name":"samples"},
"encoding":{
"x":{"field":"s","type":"nominal","sort":null,"scale":{"range":[79,583],"paddingInner":0.26,"paddingOuter":0.13},"axis":{"labels":false,"ticks":false,"domainColor":"#000","domainWidth":1.6}},
"y":{"field":"n","type":"quantitative","scale":{"domain":[0,55.5],"range":[175.5,20],"nice":false},"axis":{"title":"Mutation Count","titleFontSize":13,"titleFontWeight":"bold","titleColor":"#111","titlePadding":8,"offset":-79,"values":[0,10,20,30,40,50],"labelOverlap":false,"labelBound":false,"labelSeparation":0,"ticks":false,"labelPadding":7,"labelFontSize":12,"labelFontWeight":"bold","labelColor":"#111","domainColor":"#000","domainWidth":1.3,"labelOffset":{"condition":{"test":"datum.value===0","value":-5},"value":0}}}
},
"layer":[
{"transform":[{"fold":["Subs","Indels"],"as":["kind","n"]}],
"mark":{"type":"bar"},
"encoding":{
"color":{"field":"kind","type":"nominal","scale":{"domain":["Subs","Indels"],"range":["#0000ff","#ff0000"]},"legend":{"orient":"none","legendX":474,"legendY":14,"direction":"horizontal","title":null,"symbolType":"square","symbolSize":30,"labelFontSize":12,"labelColor":"#222","strokeColor":"#555","padding":3,"labelOffset":2,"columnPadding":8}},
"order":{"field":"kind","sort":"descending"}
}},
{"data":{"values":[{"s":"ZD27a","n":3,"t":"Genotype"}]},
"mark":{"type":"text","align":"right","dx":-27,"fontSize":12,"fontWeight":"bold","color":"#111"},
"encoding":{"text":{"field":"t"}}}
]
},
{
"width":600,"height":182,
"encoding":{
"x":{"field":"s","type":"nominal","sort":null,"scale":{"range":[79,583],"padding":0,"domain":["ZD27a","ZD28a","ZD29a","ZD0067a","ZD0046a","ZD0079a","ZD0081a","ZD0086a","ZD0061a","ZD0042a","ZD0044a","ZD0048a","ZD0071a","ZD0026a","ZD0060a","ZD0062a","ZD0063a","ZD0064a","ZD0045a","ZD0043a","ZD0024a","ZD0066a","ZD15a","ZD8a","ZD7a","ZD0041a","ZD0039a","ZD0040a","ZD10a","ZD11a","ZD12a","ZD0047a","ZD0049a","ZD0057a","ZD0052a","ZD0058a","ZD0038a","ZD30a","ZD34a","ZD16a","ZD17a","ZD18a","ZD21a","ZD22a","ZD23a","ZD24a","ZD25a","ZD31a","ZD13a","ZD14a","ZD19a","ZD20a","ZD26a"]},"axis":{"labelAngle":-90,"labelFontSize":4.2,"labelColor":"#555","labelPadding":3,"ticks":false,"domain":false,"labelOverlap":false}},
"y":{"field":"gene","type":"nominal","sort":null,"scale":{"domain":["BRAF","NRAS","p53","vc7","mitf","FOXD3","KROX20","OCT6","SETDB1","ptena","rps29","EGFP"],"range":[5,182],"padding":0},"axis":null}
},
"layer":[
{"data":{"name":"samples"},"transform":[{"fold":["BRAF","NRAS","p53","vc7","mitf","FOXD3","KROX20","OCT6","SETDB1","ptena","rps29","EGFP"],"as":["gene","v"]}],
"mark":{"type":"rect","color":"#d9d9d9","stroke":"#f2f2f2","strokeWidth":0.6}},
{"data":{"name":"samples"},"transform":[{"fold":["BRAF","NRAS","p53","vc7","mitf","FOXD3","KROX20","OCT6","SETDB1","ptena","rps29","EGFP"],"as":["gene","v"]},{"filter":"datum.v>0"}],
"mark":{"type":"rect","stroke":"#dfe3ff","strokeWidth":0.5},
"encoding":{"color":{"field":"v","type":"nominal","scale":{"domain":[1,2],"range":["#0000ff","#66c6ff"]},"legend":null}}},
{"data":{"name":"geneText"},"transform":[{"filter":"datum.k==='base'"}],"mark":{"type":"text","align":"left","dx":-64.25,"fontSize":12.5,"fontStyle":"italic","color":"#222"},"encoding":{"text":{"field":"t"}}},
{"data":{"name":"geneText"},"transform":[{"filter":"datum.k==='m1'"}],"mark":{"type":"text","align":"left","dx":-33.75,"fontSize":12.5,"fontStyle":"italic","color":"#222"},"encoding":{"text":{"field":"t"}}},
{"data":{"name":"geneText"},"transform":[{"filter":"datum.k==='m2'"}],"mark":{"type":"text","align":"left","dx":-34.75,"fontSize":12,"fontStyle":"italic","color":"#222"},"encoding":{"text":{"field":"t"}}},
{"data":{"name":"geneText"},"transform":[{"filter":"datum.k==='s1'"}],"mark":{"type":"text","align":"left","dx":-30.75,"dy":-4,"fontSize":8,"fontStyle":"italic","color":"#222"},"encoding":{"text":{"field":"t"}}},
{"data":{"name":"geneText"},"transform":[{"filter":"datum.k==='s2'"}],"mark":{"type":"text","align":"left","dx":-29.25,"dy":-4,"fontSize":8,"fontStyle":"italic","color":"#222"},"encoding":{"text":{"field":"t"}}},
{"data":{"name":"geneText"},"transform":[{"filter":"datum.k==='s3'"}],"mark":{"type":"text","align":"left","dx":-44,"dy":-4,"fontSize":8,"fontStyle":"italic","color":"#222"},"encoding":{"text":{"field":"t"}}},
{"data":{"name":"geneText"},"transform":[{"filter":"datum.k==='s4'"}],"mark":{"type":"text","align":"left","dx":-18.75,"dy":-4,"fontSize":8,"fontStyle":"italic","color":"#222"},"encoding":{"text":{"field":"t"}}},
{"data":{"name":"geneText"},"transform":[{"filter":"datum.k==='s5'"}],"mark":{"type":"text","align":"left","dx":-32.75,"dy":-4,"fontSize":8,"fontStyle":"italic","color":"#222"},"encoding":{"text":{"field":"t"}}}
]
},
{
"bounds":"flush","spacing":0,
"hconcat":[
{
"width":285,"height":158,
"title":{"text":"B","fontSize":21,"dx":8,"dy":84.5},
"data":{"name":"spectrumAll"},
"encoding":{
"x":{"field":"g","type":"nominal","sort":null,"scale":{"range":[80,318.4],"padding":0},"axis":{"labelAngle":0,"labelPadding":20,"ticks":false,"labelFontSize":10.5,"labelFontWeight":"bold","labelColor":"#111","domainColor":"#000","domainWidth":1.3}},
"xOffset":{"field":"t","type":"nominal","sort":null,"scale":{"paddingInner":0.3,"paddingOuter":0.15}}
},
"layer":[
{"mark":"bar","encoding":{
"y":{"field":"v","type":"quantitative","scale":{"domain":[0,37.24],"range":[158,50],"nice":false},"axis":{"offset":-79.5,"values":[0,10,20,30],"labelOverlap":false,"ticks":false,"labelPadding":5,"labelFontSize":13.5,"labelFontWeight":"bold","labelColor":"#111","domainColor":"#000","domainWidth":1.3,"labelOffset":{"condition":{"test":"datum.value===0","value":-3},"value":0}}},
"color":{"field":"g","type":"nominal","scale":{"domain":["C>A","C>G","C>T","T>A","T>C","T>G"],"range":["#00aeef","#000000","#e00808","#bbbbbb","#8fd14f","#e6b8b8"]},"legend":null}}},
{"mark":{"type":"text","dy":9,"fontSize":11,"color":"#222"},"encoding":{"y":{"field":"z","type":"quantitative","scale":{"domain":[0,37.24],"range":[158,50],"nice":false}},"text":{"field":"t"}}},
{"data":{"values":[{"g":"C>A","v":34.6,"t":"All samples"}]},"mark":{"type":"text","align":"left","dx":-3,"fontSize":14.5,"fontWeight":"bold","color":"#111"},"encoding":{"xOffset":{"value":0},"y":{"field":"v","type":"quantitative","scale":{"domain":[0,37.24],"range":[158,50],"nice":false}},"text":{"field":"t"}}}
]
},
{
"width":315,"height":155,
"title":{"text":"C","fontSize":21,"dx":5,"dy":88.5},
"data":{"values":[{"g":"C>A","v":4.2},{"g":"C>G","v":1},{"g":"C>T","v":16},{"g":"T>A","v":3},{"g":"T>C","v":1},{"g":"T>G","v":3}]},
"encoding":{"x":{"field":"g","type":"nominal","sort":null,"scale":{"range":[87.4,231.8],"paddingInner":0.32,"paddingOuter":0.16},"axis":{"labelAngle":0,"labelPadding":3,"ticks":false,"labelFontSize":10.5,"labelFontWeight":"bold","labelColor":"#111","domainColor":"#000","domainWidth":1.3}}},
"layer":[
{"mark":"bar","encoding":{
"y":{"field":"v","type":"quantitative","scale":{"domain":[0,17.2],"range":[155,62],"nice":false},"axis":{"offset":-86.7,"values":[0,5,10,15],"labelOverlap":false,"ticks":false,"labelPadding":5,"labelFontSize":13.5,"labelFontWeight":"bold","labelColor":"#111","domainColor":"#000","domainWidth":1.3,"labelOffset":{"condition":{"test":"datum.value===0","value":-3},"value":0}}},
"color":{"field":"g","type":"nominal","scale":{"domain":["C>A","C>G","C>T","T>A","T>C","T>G"],"range":["#00aeef","#000000","#e00808","#bbbbbb","#8fd14f","#e6b8b8"]},"legend":null}}},
{"data":{"values":[{"g":"C>A","v":17.2,"t":"ZD8a"}]},"mark":{"type":"text","align":"left","dx":0,"fontSize":14,"fontWeight":"bold","color":"#111"},"encoding":{"y":{"field":"v","type":"quantitative","scale":{"domain":[0,17.2],"range":[155,62],"nice":false}},"text":{"field":"t"}}}
]
}
]
},
{"width":600,"height":158,"data":{"values":[{"k":0}]},"mark":{"type":"rule","opacity":0},"encoding":{}},
{
"bounds":"flush","spacing":0,
"hconcat":[
{
"width":225,"height":148,
"title":{"text":"D","fontSize":21,"dx":8,"dy":79.5},
"data":{"values":[{"g":"C>A","v":10},{"g":"C>G","v":3.8},{"g":"C>T","v":13.7},{"g":"T>A","v":2.5},{"g":"T>C","v":1.3},{"g":"T>G","v":3.8}]},
"encoding":{"x":{"field":"g","type":"nominal","sort":null,"scale":{"range":[94.7,238.7],"paddingInner":0.33,"paddingOuter":0.165},"axis":{"labelAngle":0,"labelPadding":3,"ticks":false,"labelFontSize":10.5,"labelFontWeight":"bold","labelColor":"#111","domainColor":"#000","domainWidth":1.3}}},
"layer":[
{"mark":"bar","encoding":{
"y":{"field":"v","type":"quantitative","scale":{"domain":[0,16.8],"range":[148,57.3],"nice":false},"axis":{"offset":-95,"values":[0,5,10,15],"labelOverlap":false,"ticks":false,"labelPadding":4,"labelFontSize":13.5,"labelFontWeight":"bold","labelColor":"#111","domainColor":"#000","domainWidth":1.3,"labelOffset":{"condition":{"test":"datum.value===0","value":-4},"value":0}}},
"color":{"field":"g","type":"nominal","scale":{"domain":["C>A","C>G","C>T","T>A","T>C","T>G"],"range":["#00aeef","#000000","#e00808","#bbbbbb","#8fd14f","#e6b8b8"]},"legend":null}}},
{"data":{"values":[{"g":"C>A","v":16.9,"t":"ZD24a"}]},"mark":{"type":"text","align":"left","dx":4,"fontSize":14,"fontWeight":"bold","color":"#111"},"encoding":{"y":{"field":"v","type":"quantitative","scale":{"domain":[0,16.8],"range":[148,57.3],"nice":false}},"text":{"field":"t"}}}
]
},
{
"width":375,"height":146,
"title":{"text":"E","fontSize":21,"dx":3,"dy":85.5},
"data":{"values":[{"g":"C>A","v":31},{"g":"C>G","v":16.4},{"g":"C>T","v":4.4},{"g":"T>A","v":0},{"g":"T>C","v":0},{"g":"T>G","v":0}]},
"encoding":{"x":{"field":"g","type":"nominal","sort":null,"scale":{"range":[81,225],"paddingInner":0.34,"paddingOuter":0.17},"axis":{"labelAngle":0,"labelPadding":3,"ticks":false,"labelFontSize":10.5,"labelFontWeight":"bold","labelColor":"#111","domainColor":"#000","domainWidth":1.3}}},
"layer":[
{"mark":"bar","encoding":{
"y":{"field":"v","type":"quantitative","scale":{"domain":[0,32.85],"range":[146,58.3],"nice":false},"axis":{"offset":-80.7,"values":[0,10,20,30],"labelOverlap":false,"ticks":false,"labelPadding":4,"labelFontSize":13.5,"labelFontWeight":"bold","labelColor":"#111","domainColor":"#000","domainWidth":1.3,"labelOffset":{"condition":{"test":"datum.value===0","value":-4},"value":0}}},
"color":{"field":"g","type":"nominal","scale":{"domain":["C>A","C>G","C>T","T>A","T>C","T>G"],"range":["#00aeef","#000000","#e00808","#bbbbbb","#8fd14f","#e6b8b8"]},"legend":null}}},
{"data":{"values":[{"g":"C>A","v":34.1,"t":"ZD0038a"}]},"mark":{"type":"text","align":"left","dx":9,"fontSize":14,"fontWeight":"bold","color":"#111"},"encoding":{"y":{"field":"v","type":"quantitative","scale":{"domain":[0,32.85],"range":[146,58.3],"nice":false}},"text":{"field":"t"}}}
]
}
]
},
{"width":600,"height":148,"data":{"values":[{"k":0}]},"mark":{"type":"rule","opacity":0},"encoding":{}},
{
"width":600,"height":74,
"title":{"text":"F","fontSize":20,"dx":9,"dy":43.5},
"data":{"name":"lollipops"},
"encoding":{
"x":{"field":"bp","type":"quantitative","scale":{"domain":[-0.5,454],"range":[20,600]},"axis":{"labels":false,"ticks":false,"domainColor":"#111","domainWidth":1.6}},
"y":{"field":"h","type":"quantitative","scale":{"domain":[0,74],"range":[74,0]},"axis":null}
},
"layer":[
{"mark":{"type":"rule","color":"#111","strokeWidth":2},"encoding":{"y2":{"datum":0}}},
{"mark":{"type":"point","filled":true,"opacity":1,"size":105},"encoding":{"color":{"field":"m","type":"nominal","scale":{"domain":["C>T","G>C","A>C","C>A","G>T","T>C"],"range":["#e42a1c","#fbb03b","#9acc14","#12a64a","#1aa6dc","#333399"]},"legend":{"orient":"none","legendX":521,"legendY":-20,"title":null,"symbolType":"circle","symbolSize":65,"labelFontSize":12,"labelColor":"#444","labelOffset":2,"rowPadding":0,"clipHeight":14.5,"padding":0}}}}
]
},
{
"width":600,"height":191,
"encoding":{
"x":{"field":"bp","type":"quantitative","scale":{"domain":[-0.5,454],"range":[20,600]},"axis":{"domain":false,"values":[0,96.4,147.6,196.7,246,296,344.3,394,450],"tickSize":4,"tickColor":"#555","labelFontSize":12,"labelColor":"#222","labelPadding":1,"labelExpr":"(datum.value===0||datum.value===450)?format(1960300+datum.value,','):''","labelAlign":{"condition":{"test":"datum.value===0","value":"left"},"value":"right"},"labelOverlap":false}},
"y":{"field":"l","type":"quantitative","scale":{"domain":[0,191],"range":[0,191]},"axis":null},
"color":{"field":"b","type":"nominal","scale":{"domain":["A","C","G","T","N"],"range":["#7ec63c","#4a50b4","#cf7a1e","#e0301e","#000000"]},"legend":null}
},
"layer":[
{"data":{"name":"readBg"},"mark":{"type":"rect","color":"#cfcfcf"},"encoding":{"x2":{"field":"bp2"},"y2":{"field":"l2"},"color":{"value":"#cfcfcf"}}},
{"data":{"name":"gaps"},"mark":{"type":"rule","strokeWidth":1.4,"opacity":0.9},"encoding":{"x2":{"field":"bp2"},"color":{"value":"#ffffff"}}},
{"data":{"name":"readMuts"},"mark":{"type":"rule","strokeWidth":1.2,"strokeDash":[1.5,4],"opacity":0.65},"encoding":{"y2":{"field":"l2"}}},
{"data":{"name":"coverage"},"mark":{"type":"area"},"encoding":{"y2":{"field":"l2"},"detail":{"field":"tr"},"color":{"value":"#b4b4b4"}}},
{"data":{"name":"stripes"},"mark":{"type":"rule","strokeWidth":1},"encoding":{"y2":{"datum":17},"color":{"value":"#dddddd"}}},
{"data":{"name":"stripes"},"mark":{"type":"rule","strokeWidth":1},"encoding":{"y":{"field":"n","type":"quantitative","scale":{"domain":[0,191],"range":[0,191]},"axis":null},"y2":{"datum":101.5},"color":{"value":"#dddddd"}}},
{"data":{"name":"covMuts"},"mark":{"type":"rule","strokeWidth":2},"encoding":{"y2":{"field":"l2"}}},
{"data":{"name":"refSeq"},"mark":{"type":"rule","strokeWidth":3.9,"opacity":0.75},"encoding":{"y2":{"datum":188}}},
{"data":{"name":"lines"},"mark":{"type":"rule"},"encoding":{"x2":{"field":"bp2"},"color":{"value":"#666666"},"strokeWidth":{"field":"w","type":"quantitative","scale":{"domain":[1,1.4],"range":[1,1.4]},"legend":null}}},
{"data":{"name":"trackLabels"},"mark":{"type":"text","angle":270,"fontSize":12.6,"color":"#222"},"encoding":{"text":{"field":"t"},"color":{"value":"#222222"}}}
]
},
{
"width":600,"height":55,
"encoding":{
"x":{"field":"bp","type":"quantitative","scale":{"domain":[-0.5,454],"range":[20,600]},"axis":null},
"y":{"field":"l","type":"quantitative","scale":{"domain":[0,55],"range":[0,55]},"axis":null}
},
"layer":[
{"data":{"name":"trapezoids"},"mark":{"type":"area","orient":"horizontal","color":"#f1f1f1"},"encoding":{"x2":{"field":"bp2"},"detail":{"field":"n"}}},
{"data":{"name":"spanLine"},"mark":{"type":"rule","color":"#aaaaaa","strokeWidth":2},"encoding":{"x2":{"field":"bp2"}}},
{"data":{"name":"spanEnds"},"mark":{"type":"point","filled":true,"color":"#111","opacity":1,"size":22},"encoding":{"shape":{"field":"sh","type":"nominal","scale":null}}},
{"data":{"name":"spanCaps"},"mark":{"type":"rule","color":"#111","strokeWidth":1},"encoding":{"y2":{"field":"l2"}}},
{"data":{"name":"spanText"},"mark":{"type":"text","fontSize":16.5,"color":"#222"},"encoding":{"text":{"field":"t"}}}
]
},
{
"bounds":"flush","spacing":0,
"hconcat":[
{
"width":300,"height":100,
"encoding":{
"x":{"field":"p","type":"quantitative","scale":{"domain":[66,900],"range":[22,300]},"axis":null},
"y":{"field":"l","type":"quantitative","scale":{"domain":[0,100],"range":[0,100]},"axis":null},
"color":{"field":"b","type":"nominal","scale":{"domain":["A","C","G","T"],"range":["#7ec63c","#4a50b4","#cf7a1e","#e0301e"]},"legend":null}
},
"layer":[
{"data":{"name":"zoomReads"},"transform":[{"filter":"datum.v==='L'"}],"mark":{"type":"rule","strokeWidth":4.6},"encoding":{"x2":{"field":"p2"},"color":{"value":"#cfcfcf"}}},
{"data":{"name":"zoomCov"},"transform":[{"filter":"datum.v==='L'"}],"mark":{"type":"rect"},"encoding":{"x2":{"field":"p2"},"y2":{"field":"l2"},"color":{"value":"#b8b8b8"}}},
{"data":{"name":"zoomStripes"},"transform":[{"filter":"datum.v==='L'"}],"mark":{"type":"rule","strokeWidth":1},"encoding":{"y2":{"datum":16},"color":{"value":"#e2e2e2"}}},
{"data":{"name":"zoomMuts"},"transform":[{"filter":"datum.v==='L'"}],"mark":{"type":"rule","strokeWidth":4},"encoding":{"y2":{"field":"l2"}}},
{"data":{"name":"zoomLetters"},"transform":[{"filter":"datum.v==='L'"}],"mark":{"type":"text","fontSize":5.5,"fontWeight":"bold"},"encoding":{"text":{"field":"b"}}}
]
},
{
"width":300,"height":100,
"encoding":{
"x":{"field":"p","type":"quantitative","scale":{"domain":[80,895],"range":[27,298]},"axis":null},
"y":{"field":"l","type":"quantitative","scale":{"domain":[0,100],"range":[0,100]},"axis":null},
"color":{"field":"b","type":"nominal","scale":{"domain":["A","C","G","T"],"range":["#7ec63c","#4a50b4","#cf7a1e","#e0301e"]},"legend":null}
},
"layer":[
{"data":{"name":"zoomReads"},"transform":[{"filter":"datum.v==='R'"}],"mark":{"type":"rule","strokeWidth":4.6},"encoding":{"x2":{"field":"p2"},"color":{"value":"#cfcfcf"}}},
{"data":{"name":"zoomCov"},"transform":[{"filter":"datum.v==='R'"}],"mark":{"type":"rect"},"encoding":{"x2":{"field":"p2"},"y2":{"field":"l2"},"color":{"value":"#b8b8b8"}}},
{"data":{"name":"zoomStripes"},"transform":[{"filter":"datum.v==='R'"}],"mark":{"type":"rule","strokeWidth":1},"encoding":{"y2":{"datum":15.3},"color":{"value":"#e2e2e2"}}},
{"data":{"name":"zoomMuts"},"transform":[{"filter":"datum.v==='R'"}],"mark":{"type":"rule","strokeWidth":4},"encoding":{"y2":{"field":"l2"}}},
{"data":{"name":"zoomLetters"},"transform":[{"filter":"datum.v==='R'"}],"mark":{"type":"text","fontSize":5.5,"fontWeight":"bold"},"encoding":{"text":{"field":"b"}}}
]
}
]
},
{"width":600,"height":100,"data":{"values":[{"k":0}]},"mark":{"type":"rule","opacity":0},"encoding":{}}
]
}
